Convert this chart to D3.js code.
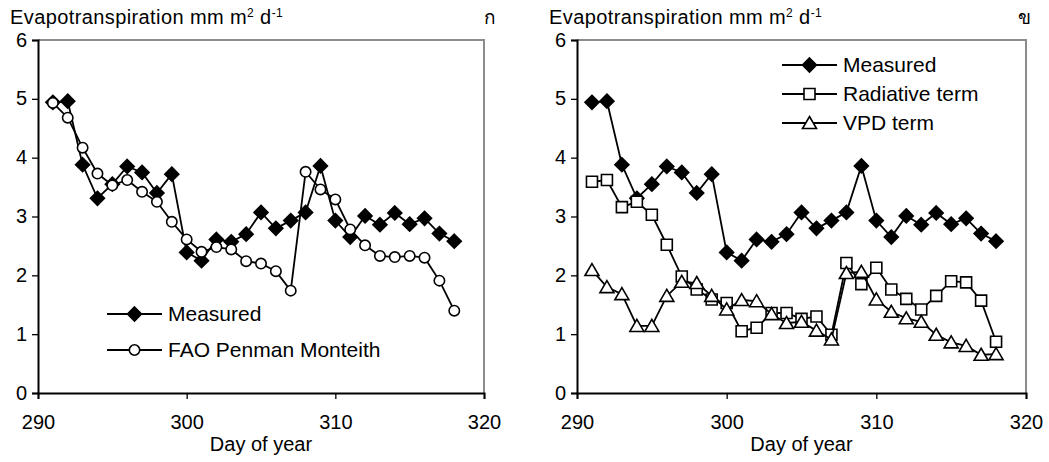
<!DOCTYPE html>
<html>
<head>
<meta charset="utf-8">
<script src="https://cdn.jsdelivr.net/npm/d3@7"></script>
<style>
body { margin:0; background:#fff; }
text { font-family: "Liberation Sans", Arial, sans-serif; fill:#000; }
</style>
</head>
<body>
<script>
var days = [291,292,293,294,295,296,297,298,299,300,301,302,303,304,305,306,307,308,309,310,311,312,313,314,315,316,317,318];

var measured = [4.94,4.96,3.88,3.31,3.55,3.85,3.75,3.40,3.72,2.39,2.25,2.61,2.57,2.70,3.07,2.80,2.93,3.07,3.86,2.93,2.65,3.01,2.86,3.06,2.87,2.97,2.71,2.58];
var fao = [4.93,4.68,4.17,3.73,3.53,3.62,3.42,3.25,2.91,2.61,2.40,2.48,2.44,2.24,2.20,2.07,1.74,3.76,3.46,3.29,2.78,2.51,2.33,2.31,2.33,2.30,1.91,1.40];
var radiative = [3.59,3.62,3.16,3.25,3.03,2.52,1.98,1.76,1.59,1.53,1.05,1.11,1.36,1.36,1.26,1.30,0.99,2.21,1.85,2.13,1.76,1.60,1.42,1.65,1.90,1.88,1.57,0.87];
var vpd = [2.09,1.80,1.68,1.14,1.14,1.65,1.89,1.87,1.65,1.42,1.58,1.56,1.34,1.19,1.21,1.06,0.91,2.04,2.06,1.59,1.38,1.27,1.21,0.99,0.86,0.80,0.65,0.66];

var xTicks = [290,300,310,320];
var yTicks = [0,1,2,3,4,5,6];
var yTitle = "Evapotranspiration mm m";
var xTitle = "Day of year";

var svg = d3.select("body").append("svg")
  .attr("width", 1049)
  .attr("height", 462);

// marker shapes
function markerPath(kind){
  if(kind == "diamond") return "M0,-7L7,0L0,7L-7,0Z";
  if(kind == "circle") return d3.symbol().type(d3.symbolCircle).size(Math.PI*5.2*5.2)();
  if(kind == "square") return "M-5.5,-5.5H5.5V5.5H-5.5Z";
  if(kind == "triangle") return "M0,-6.5L7,5.5H-7Z";
}

function drawPanel(left, right, label, series, legend){
  var x = d3.scaleLinear().domain([290,320]).range([left, right]);
  var y = d3.scaleLinear().domain([0,6]).range([393, 40]);

  // grey frame on top and right
  svg.append("path")
    .attr("d", "M" + x(290) + "," + y(6) + "H" + x(320) + "V" + y(0))
    .attr("fill","none").attr("stroke","#8c8c8c").attr("stroke-width",2);

  var yAxis = svg.append("g")
    .attr("transform","translate(" + x(290) + ",0)")
    .call(d3.axisLeft(y).tickValues(yTicks).tickSize(6).tickPadding(5).tickFormat(d3.format("d")));
  var xAxis = svg.append("g")
    .attr("transform","translate(0," + y(0) + ")")
    .call(d3.axisBottom(x).tickValues(xTicks).tickSize(6).tickPadding(16).tickFormat(d3.format("d")));

  [yAxis, xAxis].forEach(function(a){
    a.select(".domain").attr("stroke","#000").attr("stroke-width",2);
    a.selectAll(".tick line").attr("stroke","#000").attr("stroke-width",1.3);
    a.selectAll(".tick text").attr("font-size","20px").attr("font-family","Liberation Sans, Arial, sans-serif");
  });
  yAxis.selectAll(".tick text").attr("dy","0.3em");

  // title with superscripts
  var t = svg.append("text")
    .attr("x", left - 28)
    .attr("y", 24)
    .attr("font-size","20px")
    .attr("letter-spacing","0.4px");
  t.append("tspan").text(yTitle);
  t.append("tspan").attr("font-size","12px").attr("dy","-7").text("2");
  t.append("tspan").attr("dy","7").text(" d");
  t.append("tspan").attr("font-size","12px").attr("dy","-7").text("-1");

  svg.append("text")
    .attr("x", right + (label == "ก" ? 6 : -2))
    .attr("y", 24)
    .attr("font-size","19px")
    .attr("text-anchor","middle")
    .attr("font-family","Noto Sans, DejaVu Sans, sans-serif")
    .text(label);

  svg.append("text")
    .attr("x", (left + right) / 2)
    .attr("y", 451)
    .attr("text-anchor","middle")
    .attr("font-size","20px")
    .text(xTitle);

  var line = d3.line()
    .x(function(d){ return x(d[0]); })
    .y(function(d){ return y(d[1]); });

  series.forEach(function(s){
    var pts = days.map(function(d, i){ return [d, s.values[i]]; });
    svg.append("path")
      .datum(pts)
      .attr("d", line)
      .attr("fill","none")
      .attr("stroke","#000")
      .attr("stroke-width",1.8);
    svg.append("g").selectAll("path")
      .data(pts)
      .enter().append("path")
      .attr("transform", function(d){ return "translate(" + x(d[0]) + "," + y(d[1]) + ")"; })
      .attr("d", markerPath(s.kind))
      .attr("fill", s.kind == "diamond" ? "#000" : "#fff")
      .attr("stroke","#000")
      .attr("stroke-width",1.6);
  });

  // legend
  series.forEach(function(s, i){
    var ly = legend.y + i * legend.step;
    svg.append("line")
      .attr("x1", legend.x).attr("x2", legend.x + 55)
      .attr("y1", ly).attr("y2", ly)
      .attr("stroke","#000").attr("stroke-width",1.8);
    svg.append("path")
      .attr("transform","translate(" + (legend.x + 27.5) + "," + ly + ")")
      .attr("d", markerPath(s.kind))
      .attr("fill", s.kind == "diamond" ? "#000" : "#fff")
      .attr("stroke","#000")
      .attr("stroke-width",1.6);
    svg.append("text")
      .attr("x", legend.x + 61)
      .attr("y", ly)
      .attr("dy","0.35em")
      .attr("font-size","21px")
      .text(s.name);
  });
}

drawPanel(38, 484, "ก",
  [{name:"Measured", values:measured, kind:"diamond"},
   {name:"FAO Penman Monteith", values:fao, kind:"circle"}],
  {x:107, y:314, step:36});

drawPanel(577, 1026, "ข",
  [{name:"Measured", values:measured, kind:"diamond"},
   {name:"Radiative term", values:radiative, kind:"square"},
   {name:"VPD term", values:vpd, kind:"triangle"}],
  {x:782, y:65, step:29});
</script>
</body>
</html>
